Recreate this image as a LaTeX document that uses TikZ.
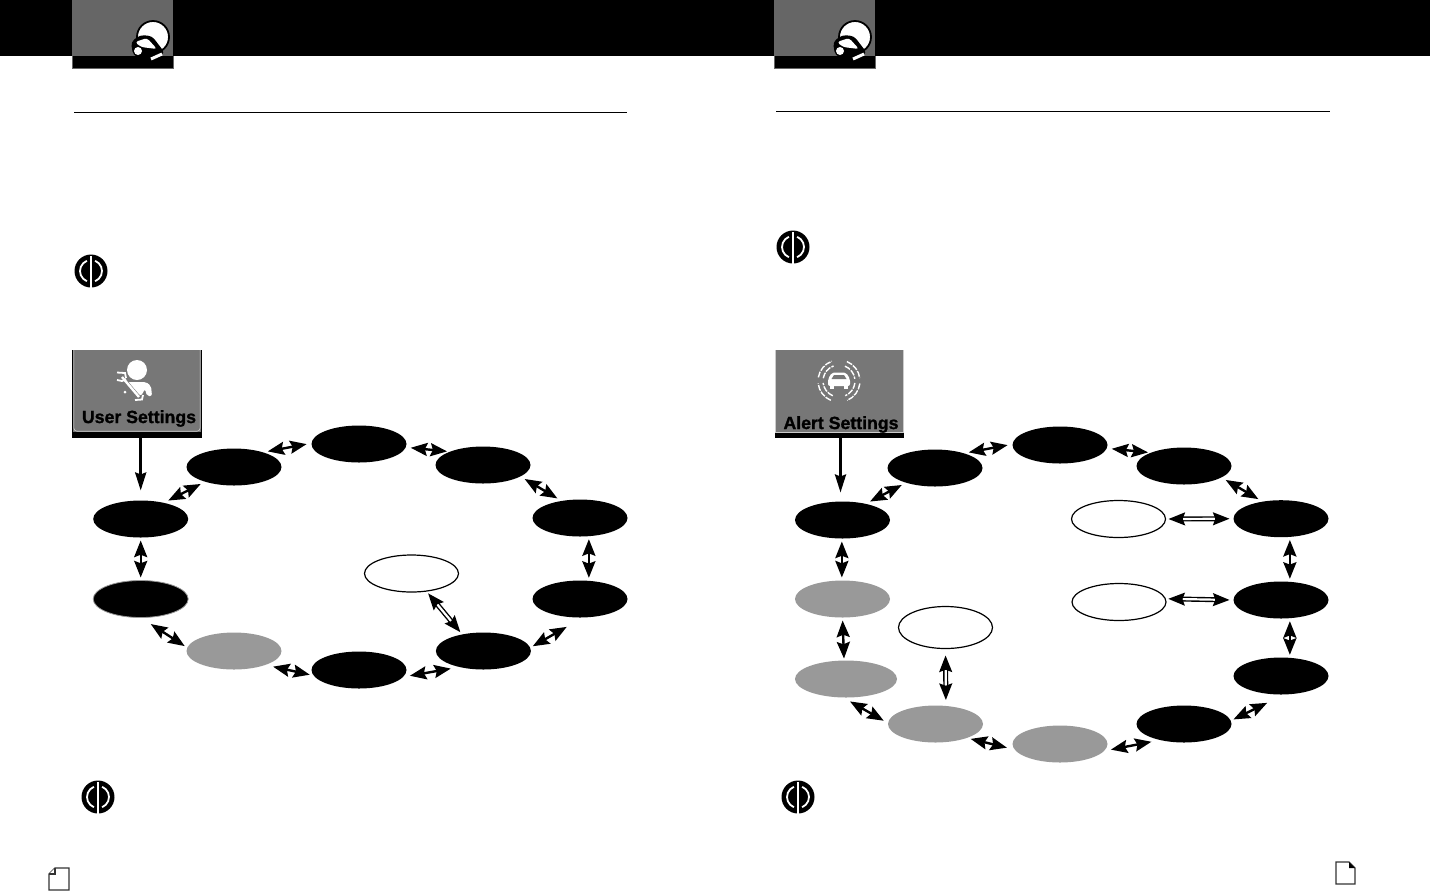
\documentclass[tikz,border=0pt]{standalone}
\usepackage{fontspec}
\setmainfont{Liberation Sans}
\newfontfamily\menufont[BoldFeatures={FakeBold=1.2}]{Liberation Sans}
\usetikzlibrary{shapes.geometric,arrows.meta}
\definecolor{tabgrey}{HTML}{666666}
\definecolor{menugrey}{HTML}{777777}
\definecolor{ovalgrey}{HTML}{999999}
\tikzset{
  blackoval/.style={ellipse, fill=black, minimum width=47.5pt, minimum height=18.5pt, inner sep=0pt, outer sep=0pt},
  greyoval/.style={blackoval, fill=ovalgrey},
  whiteoval/.style={blackoval, fill=white, draw=black, line width=0.6pt, minimum width=47pt},
  twoway/.style={{Stealth[length=8.3pt,width=6.5pt,inset=1.2pt]}-{Stealth[length=8.3pt,width=6.5pt,inset=1.2pt]}, line width=1.2pt, shorten <=2.5pt, shorten >=2.5pt},
  hollowway/.style={twoway, line width=0.7pt, double=white, double distance=1.1pt},
  oneway/.style={-{Stealth[length=9pt,width=5.5pt,inset=1pt]}, line width=1.4pt},
  menubox/.style={fill=menugrey, minimum width=64.5pt, minimum height=44pt, inner sep=0pt, outer sep=0pt},
  menulab/.style={font=\fontsize{8.85}{10}\menufont\bfseries, inner sep=0pt},
  rulebar/.style={line width=0.7pt},
  pagemark/.style={draw=black!80, fill=white, line width=0.7pt},
  helmet/.pic={
    \fill[tabgrey] (0,0) rectangle (101,56);
    \fill[black] (0,56) rectangle (101,68);
    \draw[tabgrey, line width=0.5pt] (0,56) -- (0,68) -- (101,68) -- (101,56);
    \draw[black, fill=white, line width=0.9pt] (81,37) circle[radius=16];
    \fill[black, rounded corners=2pt] (59,42) -- (68,35) -- (80,36) -- (93,53) -- (76,62) -- (61,55) -- cycle;
    \fill[white, rounded corners=1.5pt] (63,42) -- (75,38) -- (85,49) -- (69,47) -- cycle;
    \fill[white] (66,51) circle[radius=4];
    \draw[white, line width=1.5pt] (79,59) -- (90,54);
  },
  caution/.pic={
    \fill[black] (0,0) circle[radius=16.5];
    \draw[white, line width=0.9pt] (0,0) ++(112:11) arc[start angle=112, end angle=248, radius=11];
    \draw[white, line width=0.9pt] (0,0) ++(-68:11) arc[start angle=-68, end angle=68, radius=11];
    \draw[white, line width=1.4pt] (0,-15) -- (0,16.5);
  },
}
\begin{document}
\begin{tikzpicture}[x=0.5pt, y=-0.5pt]
  \useasboundingbox (0,0) rectangle (1430,891);
  \fill[black] (0,0) rectangle (1430,56);
  \pic at (72,0) {helmet};
  \pic at (774,0) {helmet};
  \draw[rulebar] (74,112.5) -- (627,112.5);
  \draw[rulebar] (776,111.5) -- (1330,111.5);
  \pic at (91,271) {caution};
  \pic at (793,247) {caution};
  \pic at (98,797) {caution};
  \pic at (798,797) {caution};

  % user settings menu
  \node[menubox] (userbox) at (137,394) {};
  \fill[black] (userbox.south west) rectangle ([yshift=3pt]userbox.south east);
  \draw[black, line width=0.5pt] (userbox.north west) -- (userbox.south west);
  \draw[black, line width=0.5pt] (userbox.north east) -- (userbox.south east);
  \draw[white!80!black, line width=0.3pt, rounded corners=1.5pt] ([xshift=0.7pt]userbox.north west) -- ([xshift=0.7pt,yshift=3.4pt]userbox.south west) -- ([xshift=-0.7pt,yshift=3.4pt]userbox.south east) -- ([xshift=-0.7pt]userbox.north east);
  \fill[white] (137,370) circle[radius=10];
  \fill[white, rounded corners=1pt] (128,382) -- (146,382) -- (151,386) -- (152,396) -- (147,396) -- (145,389) -- (141,396) -- (134,390) -- cycle;
  \draw[menugrey, line width=1.7pt] (122,377) -- (139,397);
  \draw[white, line width=1.2pt] (122,377) -- (139,397);
  \draw[white, line width=0.9pt] (117,372.5) -- (125,373) -- (126,378);
  \draw[white, line width=0.9pt] (117,380) -- (122,381) -- (126,379);
  \draw[white, line width=0.9pt] (135,400) -- (142,399.5) -- (143,395);
  \fill[white] (125,392) circle[radius=1.5];
  \node[menulab] (userlab) at (139,418.5) {User Settings};

  \node[blackoval] (u1) at (140.7,519) {};
  \node[blackoval] (u2) at (234,467) {};
  \node[blackoval] (u3) at (359,444) {};
  \node[blackoval] (u4) at (483,465) {};
  \node[blackoval] (u5) at (580,518) {};
  \node[blackoval] (u6) at (580,599) {};
  \node[blackoval] (u7) at (483.4,651) {};
  \node[blackoval] (u8) at (359,670) {};
  \node[greyoval] (u9) at (234,651) {};
  \node[blackoval, draw=ovalgrey, line width=0.4pt] (u10) at (140.7,599) {};
  \node[whiteoval] (uw) at (411.5,573.5) {};

  \draw[oneway, shorten >=5pt] (userbox.south -| u1.north) -- (u1.north);
  \draw[twoway] (u1.35) -- (u2.207);
  \draw[twoway] (u2.27) -- (u3.179);
  \draw[twoway, shorten >=1.5pt] (u3.-4) -- (u4.158);
  \draw[twoway] (u4.-17) -- (u5.137);
  \draw[twoway, shorten <=1.5pt, shorten >=1.5pt] (u5.-64) -- (u6.64);
  \draw[twoway, shorten <=1.5pt, shorten >=9.5pt] (u7.4) -- (u6.-80);
  \draw[twoway, shorten <=4.5pt, shorten >=3.5pt] (u7.214) -- (u8.-9);
  \draw[twoway, shorten <=4pt, shorten >=2pt] (u9.-24) -- (u8.187);
  \draw[twoway, shorten <=6pt, shorten >=1.5pt] (u10.-90) -- (u9.176);
  \draw[twoway, shorten <=1.5pt, shorten >=1.5pt] (u1.-90) -- (u10.90);
  \draw[hollowway, shorten <=1.5pt, shorten >=1.5pt] (uw.-50) -- (u7.142);

  % alert settings menu
  \node[menubox] (alertbox) at (839.3,394) {};
  \fill[black] (alertbox.south west) rectangle ([yshift=2.5pt]alertbox.south east);
  \draw[white!80!black, line width=0.3pt] ([xshift=0.4pt]alertbox.north west) -- ([xshift=0.4pt,yshift=3pt]alertbox.south west) -- ([xshift=-0.4pt,yshift=3pt]alertbox.south east) -- ([xshift=-0.4pt]alertbox.north east);
  \fill[white, rounded corners=1pt] (828,386) -- (828,379) -- (832,372.5) -- (846,372.5) -- (850,379) -- (850,386) -- cycle;
  \fill[white] (830,385) rectangle (834,389);
  \fill[white] (844,385) rectangle (848,389);
  \fill[menugrey] (834,375) -- (844,375) -- (846.5,379) -- (831.5,379) -- cycle;
  \foreach \rr in {16,21} \foreach \aa in {113,190,292,7} {
    \draw[white, line width=0.7pt, dash pattern=on 3pt off 0.6pt] (839,381) ++(\aa:\rr) arc[start angle=\aa, end angle=\aa+60, radius=\rr];
  }
  \node[menulab] (alertlab) at (841,424.5) {Alert Settings};

  \node[blackoval] (r1) at (842.5,520) {};
  \node[blackoval] (r2) at (935,468) {};
  \node[blackoval] (r3) at (1060,445) {};
  \node[blackoval] (r4) at (1184,466) {};
  \node[blackoval] (r5) at (1281,518.7) {};
  \node[blackoval] (r6) at (1281,600) {};
  \node[blackoval] (r7) at (1281,676) {};
  \node[blackoval] (r8) at (1184,724) {};
  \node[greyoval] (r9) at (1060,744) {};
  \node[greyoval] (r10) at (935.5,724) {};
  \node[greyoval, minimum width=51pt] (r11) at (846,679) {};
  \node[greyoval] (r12) at (842.5,599) {};
  \node[whiteoval] (ra) at (1118.5,519) {};
  \node[whiteoval] (rb) at (1119,602) {};
  \node[whiteoval, minimum height=21pt] (rc) at (945.5,627.5) {};

  \draw[oneway, shorten >=4.5pt] ([xshift=-1pt]alertbox.south -| r1.north) -- ([xshift=-1pt]r1.north);
  \draw[twoway] (r1.35) -- (r2.207);
  \draw[twoway] (r2.27) -- (r3.179);
  \draw[twoway, shorten >=1.5pt] (r3.-4) -- (r4.158);
  \draw[twoway] (r4.-17) -- (r5.137);
  \draw[twoway, shorten <=1.5pt, shorten >=1.5pt] (r5.-64) -- (r6.64);
  \draw[twoway, shorten <=1.5pt, shorten >=1.5pt] (r6.-64) -- (r7.64);
  \draw[twoway, shorten <=1.5pt, shorten >=9.5pt] (r8.4) -- (r7.-80);
  \draw[twoway, shorten <=4.5pt, shorten >=3.5pt] (r8.214) -- (r9.-9);
  \draw[twoway, shorten <=2pt, shorten >=4pt] (r10.-24) -- (r9.187);
  \draw[twoway, shorten <=4pt, shorten >=2.5pt] (r11.-99) -- (r10.179);
  \draw[twoway, shorten <=1.5pt, shorten >=1pt] (r12.-90) -- (r11.96);
  \draw[twoway, shorten <=1.5pt, shorten >=1.5pt] (r1.-92) -- (r12.92);
  \draw[hollowway, shorten <=1.5pt, shorten >=2pt] (ra.east) -- (r5.west);
  \draw[hollowway, shorten <=1.5pt, shorten >=2pt] (rb.4) -- (r6.west);
  \draw[hollowway, shorten <=3.5pt, shorten >=3pt] (rc.south) -- (r10.60);

  % page marks
  \draw[pagemark] (55,868) -- (69,868) -- (69,890) -- (49,890) -- (49,874) -- cycle;
  \draw[pagemark] (55,868) -- (55,874) -- (49,874);
  \draw[pagemark] (1336,862) -- (1349,862) -- (1355,868) -- (1355,884) -- (1336,884) -- cycle;
  \fill[black] (1349,862) -- (1355,868) -- (1349,868) -- cycle;
\end{tikzpicture}
\end{document}
